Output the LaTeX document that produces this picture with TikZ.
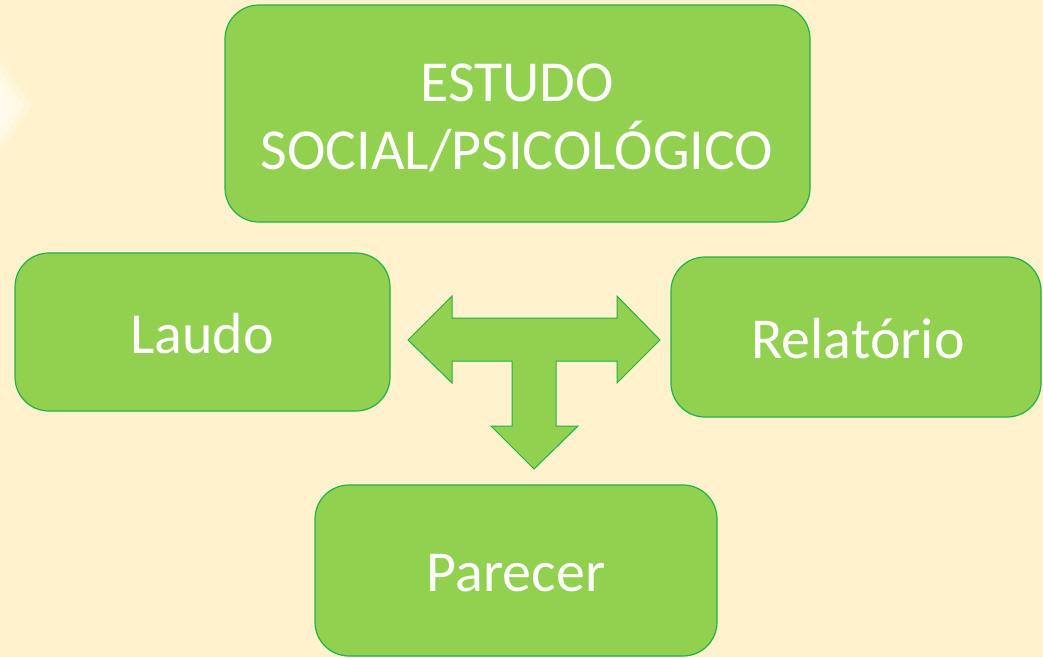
\documentclass[tikz,border=0pt]{standalone}
\usepackage{fontspec}
\setmainfont{Carlito}
\definecolor{bg}{HTML}{FFF2CC}
\definecolor{boxfill}{HTML}{92D050}
\definecolor{boxline}{HTML}{1FB24A}
\tikzset{
  gbox/.style={draw=boxline, line width=1.2pt, fill=boxfill, rounded corners=34pt},
  gtext/.style={text=white, font=\fontsize{58}{68}\selectfont, align=center},
}
\begin{document}
\begin{tikzpicture}[x=1pt,y=-1pt]
\fill[bg] (0,0) rectangle (1043,657);
\useasboundingbox (0,0) rectangle (1043,657);
\fill[white, opacity=0.25] (0,60) -- (32,106) -- (0,152) -- cycle;
\fill[white, opacity=0.3] (0,70) -- (24,106) -- (0,142) -- cycle;
\fill[white, opacity=0.35] (0,82) -- (16,106) -- (0,130) -- cycle;
% boxes
\draw[gbox] (225,5) rectangle (810,222);
\node[gtext] (estudo) at (517,118) {ESTUDO\\SOCIAL/PSICOLÓGICO};
\draw[gbox] (15,253) rectangle (390,411);
\node[gtext] (laudo) at (202,334) {Laudo};
\draw[gbox] (671,257) rectangle (1041,417);
\node[gtext] (relatorio) at (858,339) {Relatório};
\draw[gbox] (315,485) rectangle (717,656);
\node[gtext] (parecer) at (516,573) {Parecer};
% T arrow
\draw[draw=boxline, line width=1pt, fill=boxfill, line join=miter]
  (408,340) -- (452,296) -- (452,318) -- (617,318) -- (617,296) -- (660,340)
  -- (617,383) -- (617,361) -- (556,361) -- (556,426) -- (578,426) -- (534,469)
  -- (491,426) -- (512,426) -- (512,361) -- (452,361) -- (452,383) -- cycle;
\end{tikzpicture}
\end{document}
